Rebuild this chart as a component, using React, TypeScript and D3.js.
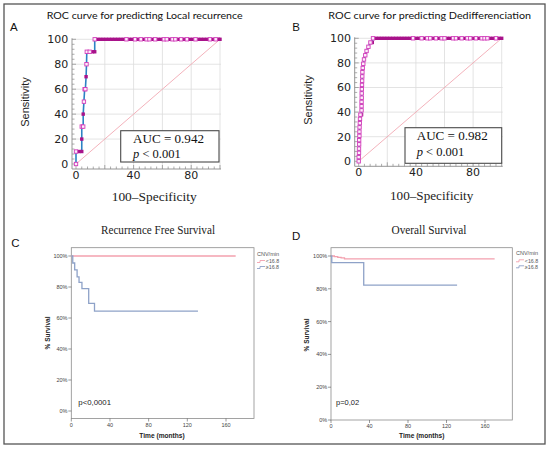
import * as d3 from "d3";

// ---------------------------------------------------------------------------
// Fonts / palette
// ---------------------------------------------------------------------------

const SANS = "'Liberation Sans', Arial, sans-serif";
const WIDE = "'DejaVu Sans', Verdana, sans-serif";
const TITLE_FONT = "Lato, 'Open Sans', sans-serif";
const SERIF = "'Liberation Serif', 'Times New Roman', serif";

const ROC_LINE = "#2c82c4";
const MARK_FILL = "#a8128a";
const MARK_OPEN = "#d23cba";
const DIAG = "#f2a9b3";
const GRID = "#dcdcdc";
const AXIS = "#8a8a8a";
const KM_PINK = "#f3a0ae";
const KM_BLUE = "#8ea2c8";
const KM_FRAME = "#8c8c8c";

// ---------------------------------------------------------------------------
// Data: ROC curves (100-specificity, sensitivity), o = open marker, f = filled
// ---------------------------------------------------------------------------

const rocAFpr = [0, 0, 2, 4, 4, 4, 5, 5, 5.5, 6, 6.5, 7, 7.3, 7.5, 9.5, 11.5, 13, 13];
const rocATpr = [0, 10, 10, 10, 20, 30, 30, 40, 50, 60, 60, 70, 80, 90, 90, 90, 90, 100];
const rocAKind = "oofffoofooofoooffo";
const rocATopFpr = [
  15, 17, 19, 21, 23, 25, 27, 29, 31, 33, 35, 37, 39, 41, 43, 45, 47, 49, 51, 53, 55, 57,
  59, 61, 63, 65, 67, 69, 71, 73, 75, 77, 79, 81, 83, 85, 87, 89, 91, 93, 95, 97, 99, 100,
];
const rocATopKind = "ffffffffffoffofofoofoffoofoofofoffoffffofoff";

const rocBFpr = [
  0, 0, 0.2, 0.2, 0.3, 0.3, 0.5, 0.5, 0.6, 0.8, 0.9, 1.2, 2.0, 2.0, 2.0, 2.0, 2.1, 2.1,
  2.2, 2.3, 2.4, 2.5, 2.6, 2.8, 3.2, 3.7, 4.6, 5.5, 6.8, 8.2, 9.5, 10,
];
const rocBTpr = [
  0, 3.4, 6.9, 10.3, 13.8, 17.2, 20.7, 24.1, 27.6, 31.0, 34.5, 37.9, 37.9, 41.4, 44.8, 48.3,
  51.7, 55.2, 58.6, 62.1, 65.5, 69.0, 72.4, 75.9, 79.3, 82.8, 86.2, 89.7, 93.1, 96.6, 96.6, 100,
];
const rocBKind = "oooooooooooofooooooooooooooooofo";
const rocBTopFpr = [
  12, 14, 16, 18, 20, 22, 24, 26, 28, 30, 32, 34, 36, 38, 40, 42, 44, 46, 48, 50, 52, 54, 56,
  58, 60, 62, 64, 66, 68, 70, 72, 74, 76, 78, 80, 82, 84, 86, 88, 90, 92, 94, 96, 98, 100,
];
const rocBTopKind = "fffffffffffffoffofoofofooffoofofoofofoooffoff";

const rocYTicks = [0, 20, 40, 60, 80, 100];
const rocXLabels = [0, 40, 80];

// ---------------------------------------------------------------------------
// Data: Kaplan-Meier curves (months, % survival)
// ---------------------------------------------------------------------------

const rfsLowTime = [0];
const rfsLowSurv = [100];
const rfsLowEnd = 170;
const rfsHighTime = [0, 1.5, 3.5, 6, 8, 11, 18, 24];
const rfsHighSurv = [100, 95.5, 91, 86.5, 83, 79, 69.5, 64.5];
const rfsHighEnd = 131;

const osLowTime = [0, 3.5, 7, 10.5, 14];
const osLowSurv = [100, 99.6, 99.2, 98.8, 98.2];
const osLowEnd = 170;
const osHighTime = [0, 0.8, 34];
const osHighSurv = [100, 95.9, 82.3];
const osHighEnd = 131;

const kmYTicks = [0, 20, 40, 60, 80, 100];
const kmXTicks = [0, 40, 80, 120, 160];
const legendLabels = ["<16.8", "\u226516.8"];

// ---------------------------------------------------------------------------
// ROC panel
// ---------------------------------------------------------------------------

interface RocCfg {
  letter: string;
  letterX: number;
  title: string;
  titleX: number;
  titleW: number;
  x0: number;
  x100: number;
  y0: number;
  y100: number;
  labelRight: number;
  sensX: number;
  sensY: number;
  specX: number;
  specW: number;
  specY: number;
  box: { x: number; y: number; w: number; h: number; tx: number; b1: number; b2: number };
  auc: string;
  fpr: number[];
  tpr: number[];
  kind: string;
  topFpr: number[];
  topKind: string;
}

function RocPanel({ c }: { c: RocCfg }) {
  const x = d3.scaleLinear().domain([0, 100]).range([c.x0, c.x100]);
  const y = d3.scaleLinear().domain([0, 100]).range([c.y0, c.y100]);
  const axX = c.x0 - 4;
  const axY = c.y0 + 5;
  const minor = d3.range(0, 101, 4);
  const pts: [number, number][] = c.fpr.map((f, i) => [f, c.tpr[i]]);
  pts.push([100, 100]);
  const line = d3
    .line<[number, number]>()
    .x((d) => x(d[0]))
    .y((d) => y(d[1]));
  const ms = 3.4;

  const marks = [
    ...c.fpr.map((f, i) => ({ f, t: c.tpr[i], open: c.kind[i] === "o" })),
    ...c.topFpr.map((f, i) => ({ f, t: 100, open: c.topKind[i] === "o" })),
  ];

  return (
    <g>
      <text x={c.letterX} y={30.7} fontFamily={SANS} fontSize={11.5} fill="#111">
        {c.letter}
      </text>
      <text
        x={c.titleX}
        y={19.3}
        textAnchor="middle"
        fontFamily={TITLE_FONT}
        fontSize={9.5}
        fill="#111"
        textLength={c.titleW}
        lengthAdjust="spacingAndGlyphs"
      >
        {c.title}
      </text>

      {/* grid */}
      {[20, 40, 60, 80, 100].map((v) => (
        <line key={`gv${v}`} x1={x(v)} x2={x(v)} y1={axY} y2={y(100)} stroke={GRID} strokeWidth={0.8} />
      ))}
      {[20, 40, 60, 80, 100].map((v) => (
        <line key={`gh${v}`} x1={axX} x2={x(100) + 1} y1={y(v)} y2={y(v)} stroke={GRID} strokeWidth={0.8} />
      ))}

      {/* axes */}
      <line x1={axX} x2={axX} y1={y(100) - 1} y2={axY} stroke={AXIS} strokeWidth={0.9} />
      <line x1={axX} x2={x(100) + 1} y1={axY} y2={axY} stroke={AXIS} strokeWidth={0.9} />
      {minor.map((v) => (
        <g key={`mt${v}`}>
          <line x1={axX} x2={axX + (v % 20 === 0 ? 4 : 2.5)} y1={y(v)} y2={y(v)} stroke={AXIS} strokeWidth={0.7} />
          <line x1={x(v)} x2={x(v)} y1={axY} y2={axY - (v % 20 === 0 ? 4 : 2.5)} stroke={AXIS} strokeWidth={0.7} />
        </g>
      ))}
      {rocYTicks.map((v) => (
        <text
          key={`yl${v}`}
          x={c.labelRight}
          y={y(v)}
          dy="0.36em"
          textAnchor="end"
          fontFamily={WIDE}
          fontSize={11}
          fill="#222"
        >
          {v}
        </text>
      ))}
      {rocXLabels.map((v) => (
        <text
          key={`xl${v}`}
          x={x(v)}
          y={axY + 10}
          textAnchor="middle"
          fontFamily={WIDE}
          fontSize={11}
          fill="#222"
        >
          {v}
        </text>
      ))}

      <text
        transform={`translate(${c.sensX},${c.sensY}) rotate(-90)`}
        textAnchor="middle"
        dominantBaseline="central"
        fontFamily={SANS}
        fontSize={11}
        fill="#222"
      >
        Sensitivity
      </text>
      <text
        x={c.specX}
        y={c.specY}
        textAnchor="middle"
        fontFamily={SERIF}
        fontSize={13.5}
        fill="#222"
        textLength={c.specW}
        lengthAdjust="spacingAndGlyphs"
      >
        100–Specificity
      </text>

      {/* diagonal */}
      <line x1={x(0)} y1={y(0)} x2={x(100)} y2={y(100)} stroke={DIAG} strokeWidth={0.9} />

      {/* curve */}
      <path d={line(pts) ?? ""} fill="none" stroke={ROC_LINE} strokeWidth={1.6} />
      <line x1={x(c.fpr[c.fpr.length - 1])} x2={x(100)} y1={y(100)} y2={y(100)} stroke={MARK_FILL} strokeWidth={2.6} />
      {marks
        .filter((m) => !m.open)
        .map((m, i) => (
          <rect key={`mf${i}`} x={x(m.f) - ms / 2} y={y(m.t) - ms / 2} width={ms} height={ms} fill={MARK_FILL} />
        ))}
      {marks
        .filter((m) => m.open)
        .map((m, i) => (
          <rect
            key={`mo${i}`}
            x={x(m.f) - ms / 2}
            y={y(m.t) - ms / 2}
            width={ms}
            height={ms}
            fill="#fdeefa"
            stroke={MARK_OPEN}
            strokeWidth={0.9}
          />
        ))}

      {/* AUC box */}
      <rect x={c.box.x} y={c.box.y} width={c.box.w} height={c.box.h} fill="#fff" stroke="#4a4a4a" strokeWidth={1.1} />
      <text x={c.box.tx} y={c.box.b1} fontFamily={SERIF} fontSize={12.5} fill="#111" textLength={71} lengthAdjust="spacingAndGlyphs">
        {c.auc}
      </text>
      <text x={c.box.tx} y={c.box.b2} fontFamily={SERIF} fontSize={12.5} fill="#111">
        <tspan fontStyle="italic">p</tspan> {"< 0.001"}
      </text>
    </g>
  );
}

// ---------------------------------------------------------------------------
// Kaplan-Meier panel
// ---------------------------------------------------------------------------

interface Series {
  time: number[];
  surv: number[];
  end: number;
  color: string;
}

interface KmCfg {
  letter: string;
  letterX: number;
  letterY: number;
  title: string;
  titleX: number;
  titleW: number;
  left: number;
  right: number;
  top: number;
  bottom: number;
  yTop: number;
  yZero: number;
  x160: number;
  timeX: number;
  survX: number;
  survY: number;
  pText: string;
  pX: number;
  pSize: number;
  legX: number;
  legY: number;
  series: Series[];
}

function KmPanel({ c }: { c: KmCfg }) {
  const x = d3.scaleLinear().domain([0, 160]).range([c.left, c.x160]);
  const y = d3.scaleLinear().domain([0, 100]).range([c.yZero, c.yTop]);
  const step = d3
    .line<[number, number]>()
    .x((d) => x(d[0]))
    .y((d) => y(d[1]))
    .curve(d3.curveStepAfter);

  return (
    <g>
      <text x={c.letterX} y={c.letterY} fontFamily={SANS} fontSize={11.5} fill="#111">
        {c.letter}
      </text>
      <text
        x={c.titleX}
        y={234.3}
        textAnchor="middle"
        fontFamily={SERIF}
        fontSize={11.5}
        fill="#222"
        textLength={c.titleW}
        lengthAdjust="spacingAndGlyphs"
      >
        {c.title}
      </text>

      <rect
        x={c.left}
        y={c.top}
        width={c.right - c.left}
        height={c.bottom - c.top}
        fill="#fff"
        stroke={KM_FRAME}
        strokeWidth={0.8}
      />
      {kmYTicks.map((v) => (
        <g key={`ky${v}`}>
          <line x1={c.left - 3} x2={c.left} y1={y(v)} y2={y(v)} stroke="#555" strokeWidth={0.6} />
          <text x={c.left - 3.8} y={y(v)} dy="0.35em" textAnchor="end" fontFamily={SANS} fontSize={5.5} fill="#444">
            {v}%
          </text>
        </g>
      ))}
      {kmXTicks.map((v) => (
        <g key={`kx${v}`}>
          <line x1={x(v)} x2={x(v)} y1={c.bottom} y2={c.bottom + 3} stroke="#555" strokeWidth={0.6} />
          <text x={x(v)} y={c.bottom + 8} textAnchor="middle" fontFamily={SANS} fontSize={5.5} fill="#444">
            {v}
          </text>
        </g>
      ))}
      <text x={c.timeX} y={437.5} textAnchor="middle" fontFamily={SANS} fontWeight="bold" fontSize={6.6} fill="#222">
        Time (months)
      </text>
      <text
        transform={`translate(${c.survX},${c.survY}) rotate(-90)`}
        textAnchor="middle"
        dominantBaseline="central"
        fontFamily={SANS}
        fontWeight="bold"
        fontSize={6.5}
        fill="#222"
      >
        % Survival
      </text>

      {c.series.map((s, i) => {
        const pts: [number, number][] = s.time.map((t, j) => [t, s.surv[j]]);
        pts.push([s.end, s.surv[s.surv.length - 1]]);
        return <path key={`s${i}`} d={step(pts) ?? ""} fill="none" stroke={s.color} strokeWidth={1.3} />;
      })}

      <text x={c.pX} y={402.7} dy="0.35em" fontFamily={SANS} fontSize={c.pSize} fill="#222">
        {c.pText}
      </text>

      {/* legend */}
      <text x={c.legX} y={c.legY} dy="0.35em" fontFamily={SANS} fontSize={5.5} fill="#555">
        CNV/min
      </text>
      {c.series.map((s, i) => {
        const ly = c.legY + 7.5 + i * 6;
        return (
          <g key={`lg${i}`}>
            <path
              d={`M${c.legX},${ly + 1} h3 v-2 h5`}
              fill="none"
              stroke={s.color}
              strokeWidth={0.9}
            />
            <text x={c.legX + 8.8} y={ly} dy="0.35em" fontFamily={SANS} fontSize={5.3} fill="#555">
              {legendLabels[i]}
            </text>
          </g>
        );
      })}
    </g>
  );
}

// ---------------------------------------------------------------------------
// Layout
// ---------------------------------------------------------------------------

const panelA: RocCfg = {
  letter: "A",
  letterX: 10,
  title: "ROC curve for predicting Local recurrence",
  titleX: 144.7,
  titleW: 196,
  x0: 76,
  x100: 220,
  y0: 164,
  y100: 39.3,
  labelRight: 68.3,
  sensX: 25.3,
  sensY: 102,
  specX: 154.2,
  specW: 85,
  specY: 201,
  box: { x: 120.7, y: 130.7, w: 98.3, h: 31.3, tx: 133, b1: 143.3, b2: 158.3 },
  auc: "AUC = 0.942",
  fpr: rocAFpr,
  tpr: rocATpr,
  kind: rocAKind,
  topFpr: rocATopFpr,
  topKind: rocATopKind,
};

const panelB: RocCfg = {
  letter: "B",
  letterX: 292.3,
  title: "ROC curve for predicting Dedifferenciation",
  titleX: 429.7,
  titleW: 202.7,
  x0: 358.7,
  x100: 501.7,
  y0: 161.3,
  y100: 38.3,
  labelRight: 351,
  sensX: 308.3,
  sensY: 100,
  specX: 431.7,
  specW: 83.3,
  specY: 200,
  box: { x: 405, y: 127.7, w: 96.7, h: 35.6, tx: 416.7, b1: 140, b2: 156 },
  auc: "AUC = 0.982",
  fpr: rocBFpr,
  tpr: rocBTpr,
  kind: rocBKind,
  topFpr: rocBTopFpr,
  topKind: rocBTopKind,
};

const panelC: KmCfg = {
  letter: "C",
  letterX: 11.2,
  letterY: 247.3,
  title: "Recurrence Free Survival",
  titleX: 158,
  titleW: 114,
  left: 71.3,
  right: 254,
  top: 247.7,
  bottom: 418.5,
  yTop: 256,
  yZero: 411,
  x160: 226,
  timeX: 162,
  survX: 47.7,
  survY: 333,
  pText: "p<0,0001",
  pX: 78.3,
  pSize: 7.8,
  legX: 257,
  legY: 254,
  series: [
    { time: rfsLowTime, surv: rfsLowSurv, end: rfsLowEnd, color: KM_PINK },
    { time: rfsHighTime, surv: rfsHighSurv, end: rfsHighEnd, color: KM_BLUE },
  ],
};

const panelD: KmCfg = {
  letter: "D",
  letterX: 292,
  letterY: 240,
  title: "Overall Survival",
  titleX: 429,
  titleW: 75,
  left: 331,
  right: 512.3,
  top: 247.7,
  bottom: 420,
  yTop: 256,
  yZero: 420,
  x160: 485,
  timeX: 421.7,
  survX: 306.7,
  survY: 335,
  pText: "p=0,02",
  pX: 336,
  pSize: 7.5,
  legX: 516,
  legY: 253.3,
  series: [
    { time: osLowTime, surv: osLowSurv, end: osLowEnd, color: KM_PINK },
    { time: osHighTime, surv: osHighSurv, end: osHighEnd, color: KM_BLUE },
  ],
};

export default function App() {
  return (
    <svg
      width={550}
      height={452}
      style={{ position: "absolute", left: 0, top: 0, background: "#fff" }}
    >
      <rect x={0} y={0} width={550} height={452} fill="#fff" />
      <rect x={4} y={4} width={541} height={440} fill="none" stroke="#555" strokeWidth={1.3} />
      <RocPanel c={panelA} />
      <RocPanel c={panelB} />
      <KmPanel c={panelC} />
      <KmPanel c={panelD} />
    </svg>
  );
}
